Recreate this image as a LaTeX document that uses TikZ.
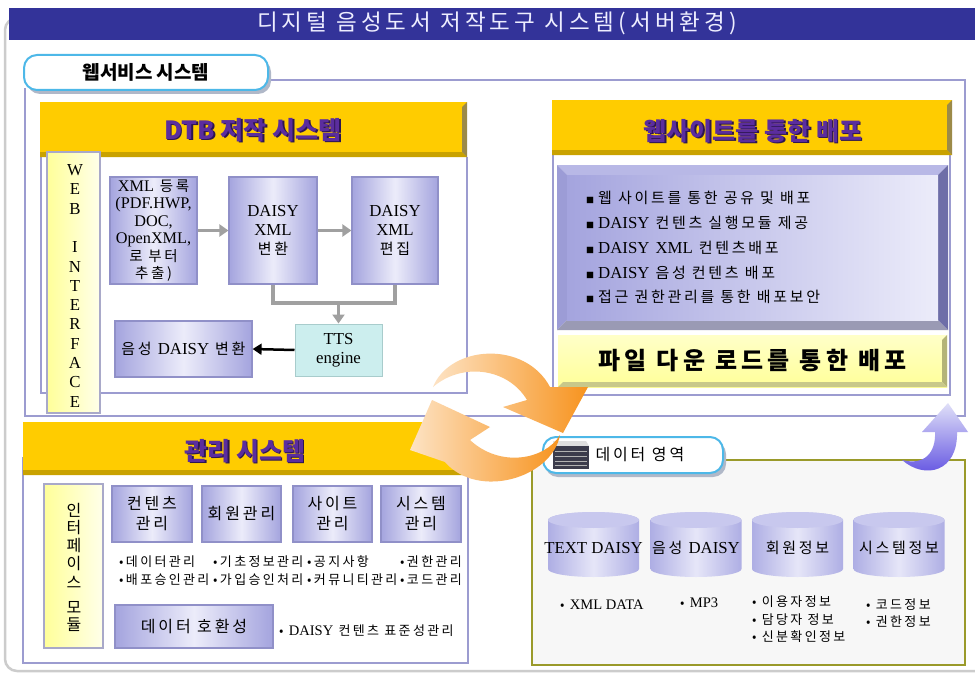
\documentclass[tikz,border=0pt]{standalone}
\usepackage{fontspec}
\usepackage{tikz}
\usetikzlibrary{arrows.meta,positioning}
\setmainfont{Noto Sans CJK KR}[LetterSpace=18]
\newfontfamily\hdfont{Noto Sans CJK KR}
\newfontfamily\latfont[Scale=1.12]{Liberation Serif}
\definecolor{titlebar}{HTML}{333399}
\definecolor{titletext}{HTML}{EEEEFF}
\definecolor{framegray}{HTML}{CCCCCC}
\definecolor{framelav}{HTML}{9C9CD0}
\definecolor{goldfill}{HTML}{FFCC00}
\definecolor{goldlow}{HTML}{C9A200}
\definecolor{goldside}{HTML}{9C8A48}
\definecolor{hdpurple}{HTML}{5B2D9E}
\definecolor{hdshadow}{HTML}{2D1650}
\definecolor{lavdark}{HTML}{A4A4DE}
\definecolor{lavlight}{HTML}{ECECFA}
\definecolor{lavedge}{HTML}{9090C8}
\definecolor{ttscyan}{HTML}{CCEEEE}
\definecolor{ttsedge}{HTML}{A8CCCC}
\definecolor{paleyellow}{HTML}{FFFF99}
\definecolor{creamy}{HTML}{FFFFEA}
\definecolor{colgray}{HTML}{A9A9C9}
\definecolor{pipegray}{HTML}{A0A0A0}
\definecolor{tabcyan}{HTML}{4DB8E8}
\definecolor{tabshadow}{HTML}{B0B8C8}
\definecolor{bevtop}{HTML}{B8B8E6}
\definecolor{bevleft}{HTML}{9C9CD6}
\definecolor{bevbottom}{HTML}{9A9AB4}
\definecolor{bevright}{HTML}{6E6EA8}
\definecolor{dltop}{HTML}{FFFFC8}
\definecolor{dlright}{HTML}{B4B478}
\definecolor{dlbottom}{HTML}{C8C88A}
\definecolor{dataolive}{HTML}{9A9A2A}
\definecolor{datagray}{HTML}{F7F7F7}
\definecolor{srvdark}{HTML}{3C3C4C}
\definecolor{cylside}{HTML}{AEAEE4}
\definecolor{cylmid}{HTML}{E6E6F8}
\definecolor{cyltop}{HTML}{C8C8EE}
\definecolor{orangelite}{HTML}{FDE3C4}
\definecolor{orangedeep}{HTML}{F7931E}
\definecolor{bluelite}{HTML}{E0E0F8}
\definecolor{bluedeep}{HTML}{5A4AE0}

\newcommand{\eng}[1]{{\latfont #1}}
\newcommand{\fsz}[2]{\fontsize{#1}{#2}\selectfont}

% gold header bar with bevel: x1 y1 x2 y2
\newcommand{\goldhead}[4]{%
  \fill[goldfill] (#1,#2) rectangle (#3,#4);
  \fill[goldlow] (#1,#4) -- (#3,#4) -- ({#3-5},{#4-5}) -- (#1,{#4-5}) -- cycle;
  \fill[goldside] (#3,#2) -- (#3,#4) -- ({#3-5},{#4-5}) -- ({#3-5},{#2+5}) -- cycle;
}
% header title with shadow: name x y text
\newcommand{\hdlabel}[4]{%
  \node[hdtxt, text=hdshadow] at ({#2+1.5},{#3+1.5}) {#4};
  \node[hdtxt] (#1) at (#2,#3) {#4};
}
% database cylinder: name x text
\newcommand{\dbcyl}[3]{%
  \shade[left color=cylside, right color=cylside, middle color=cylmid]
    ({#2-45.5},520) -- ({#2-45.5},569) arc[start angle=180, end angle=0, x radius=45.5, y radius=8]
    -- ({#2+45.5},520) arc[start angle=0, end angle=-180, x radius=45.5, y radius=8] -- cycle;
  \fill[cyltop] (#2,520) ellipse[x radius=45.5, y radius=8];
  \node[font=\fsz{15}{17}] (#1) at (#2,548) {\makebox[0pt]{#3}};
}

\tikzset{
  lavbox/.style={draw=lavedge, line width=1.2pt, left color=lavdark, right color=lavdark,
    middle color=lavlight, inner sep=0pt, align=center, font=\fsz{15}{19}},
  ylwcol/.style={draw=colgray, line width=2.5pt, left color=paleyellow, right color=creamy},
  pipe/.style={line width=3.5pt, draw=pipegray},
  pipearrow/.style={pipe, -{Triangle[length=9pt,width=12pt]}},
  hdtxt/.style={font=\hdfont\bfseries\fsz{25}{28}, text=hdpurple},
  bul/.style={anchor=west, inner sep=0pt, font=\fsz{13}{15}},
  tabpill/.style={draw=tabcyan, line width=2pt, fill=white, rounded corners=13pt},
}

\begin{document}
\begin{tikzpicture}[x=1pt, y=-1pt]
  \clip (0,0) rectangle (975,677);
  \fill[white] (0,0) rectangle (975,677);

  % Outer frame and title
  \draw[framegray, line width=2.5pt, rounded corners=12pt] (5,18) rectangle (990,671);
  \fill[titlebar] (9,8) rectangle (980,40);
  \node[font=\fsz{22.5}{26}, text=titletext] (title) at (497,23) {디지털 음성도서 저작도구 시스템(서버환경)};

  % Web service frame
  \draw[framelav, line width=1.5pt] (268,80) -- (965,80) -- (965,416) -- (25,416) -- (25,88);
  \fill[tabshadow, rounded corners=13pt] (27,59) rectangle (271,94);
  \node[tabpill, minimum width=244pt, minimum height=35pt, font=\hdfont\bfseries\fsz{19}{22}] (webtab) at (146,72.5) {웹서비스 시스템};

  % DTB authoring
  \fill[white] (41,157) rectangle (467,393);
  \draw[framelav, line width=1.5pt] (41,157) -- (41,393) -- (467,393) -- (467,157);
  \goldhead{40}{102}{467}{157}
  \hdlabel{dtbhead}{253}{130}{DTB 저작 시스템}

  \node[ylwcol, minimum width=53pt, minimum height=261pt] (webif) at (73.5,282.5) {};
  \foreach \ch [count=\i from 0] in {W,E,B,,I,N,T,E,R,F,A,C,E}
    \node[font=\latfont\fsz{15}{15}] (wi\i) at (75,{170+19.3*\i}) {\ch};

  \node[lavbox, font=\fsz{14.5}{17.5}, minimum width=87pt, minimum height=107pt] (xmlreg) at (153.5,230.5)
    {\eng{XML} 등록\\\eng{(PDF.HWP,}\\\eng{DOC,}\\\eng{OpenXML,}\\로 부터\\추출)};
  \node[lavbox, minimum width=88pt, minimum height=107pt] (daisyconv) at (273,230.5) {\eng{DAISY}\\\eng{XML}\\변환};
  \node[lavbox, minimum width=86pt, minimum height=107pt] (daisyedit) at (395,230.5) {\eng{DAISY}\\\eng{XML}\\편집};
  \node[draw=ttsedge, line width=1pt, fill=ttscyan, minimum width=87pt, minimum height=52pt,
    align=center, font=\latfont\fsz{15}{19}] (tts) at (338.5,350) {TTS\\engine};
  \node[lavbox, minimum width=137pt, minimum height=56pt] (voiceconv) at (183.5,349) {음성 \eng{DAISY} 변환};

  \draw[pipearrow] (xmlreg) -- (daisyconv);
  \draw[pipearrow] (daisyconv) -- (daisyedit);
  \coordinate (ttsjoin) at (338.5,303);
  \draw[pipe] (daisyconv.south) |- (ttsjoin) -| (daisyedit.south);
  \draw[pipearrow] (ttsjoin) -- (tts.north);
  \draw[line width=2.5pt, -{Triangle[length=9pt,width=11pt]}] (tts.west) -- (voiceconv.east);

  % Distribution via web site
  \fill[white] (553,155) rectangle (950,395);
  \draw[framelav, line width=1.5pt] (553,155) -- (553,395) -- (950,395) -- (950,155);
  \goldhead{552}{100}{952}{155}
  \hdlabel{webhead}{753}{131}{웹사이트를 통한 배포}

  \fill[bevtop] (557,165) -- (948,165) -- (938,175) -- (567,175) -- cycle;
  \fill[bevleft] (557,165) -- (567,175) -- (567,320) -- (557,330) -- cycle;
  \fill[bevbottom] (557,330) -- (567,320) -- (938,320) -- (948,330) -- cycle;
  \fill[bevright] (948,165) -- (948,330) -- (938,320) -- (938,175) -- cycle;
  \node[minimum width=371pt, minimum height=145pt, inner sep=0pt, left color=lavdark, right color=lavlight] (sharebox) at (752.5,247.5) {};
  \foreach \txt [count=\i from 0] in {웹 사이트를 통한 공유 및 배포, \eng{DAISY} 컨텐츠 실행모듈 제공,
      \eng{DAISY} \eng{XML} 컨텐츠배포, \eng{DAISY} 음성 컨텐츠 배포, 접근 권한관리를 통한 배포보안}
    \node[bul, font=\fsz{15}{17}] (share\i) at (586,{198+24.8*\i}) {{\fsz{8}{8}■}\hspace{4pt}\txt};

  \node[minimum width=389pt, minimum height=52pt, inner sep=0pt, top color=dltop, bottom color=paleyellow,
    font=\bfseries\fsz{24}{26}] (download) at (752.5,361) {파일 다운 로드를 통한 배포};
  \fill[dlright] (download.north east) -- (download.south east) -- ++(-5,-5)
    -- ([xshift=-5pt,yshift=-5pt]download.north east) -- cycle;
  \fill[dlbottom] (download.south west) -- (download.south east) -- ++(-5,-5)
    -- ([xshift=5pt,yshift=5pt]download.south west) -- cycle;

  % Management system
  \fill[white] (23,457) rectangle (468,663);
  \draw[framelav, line width=1.5pt] (23,457) -- (23,663) -- (468,663) -- (468,470);
  \goldhead{23}{422}{467}{475}
  \hdlabel{mgmthead}{245}{451}{관리 시스템}

  \node[ylwcol, minimum width=59pt, minimum height=164pt] (ifmod) at (73.5,566) {};
  \foreach \ch/\yy [count=\i] in {인/510,터/528,페/546,이/564,스/582,모/607,듈/625}
    \node[font=\fsz{16}{16}] (im\i) at (74,\yy) {\ch};

  \node[lavbox, font=\fsz{16}{20}, minimum width=80pt, minimum height=56pt] (contmgmt) at (152,514) {컨텐츠\\관리};
  \node[lavbox, font=\fsz{16}{20}, minimum width=79pt, minimum height=56pt] (membmgmt) at (241.5,514) {회원관리};
  \node[lavbox, font=\fsz{16}{20}, minimum width=79pt, minimum height=56pt] (sitemgmt) at (332.5,514) {사이트\\관리};
  \node[lavbox, font=\fsz{16}{20}, minimum width=80pt, minimum height=56pt] (sysmgmt) at (421,514) {시스템\\관리};

  \node[bul] (mb1) at (119,562) {•데이터관리};
  \node[bul] (mb2) at (213,562) {•기초정보관리};
  \node[bul] (mb3) at (307,562) {•공지사항};
  \node[bul] (mb4) at (400,562) {•권한관리};
  \node[bul] (mb5) at (119,580) {•배포승인관리};
  \node[bul] (mb6) at (213,580) {•가입승인처리};
  \node[bul] (mb7) at (307,580) {•커뮤니티관리};
  \node[bul] (mb8) at (400,580) {•코드관리};

  \node[lavbox, font=\fsz{16}{20}, minimum width=158pt, minimum height=43pt] (compat) at (194,626.5) {데이터 호환성};
  \node[bul] (compatnote) at (279,631) {• \eng{DAISY} 컨텐츠 표준성관리};

  % Data area
  \draw[dataolive, line width=1.5pt, fill=datagray] (532,460) rectangle (965,665);
  \fill[tabshadow, rounded corners=13pt] (545,441) rectangle (726,477);
  \node[tabpill, minimum width=180pt, minimum height=36pt] (datatab) at (633,455) {};
  \fill[gray!25] (553,441) -- (586,441) -- (589,446) -- (553,446) -- cycle;
  \fill[srvdark] (553,446) rectangle (589,469);
  \foreach \yy in {451,456,461,465}
    \draw[gray!60, line width=0.6pt] (555,\yy) -- (587,\yy);
  \node[anchor=west, font=\fsz{16}{18}] (datalbl) at (592,455) {데이터 영역};

  \dbcyl{textdb}{593.5}{\eng{TEXT DAISY}}
  \dbcyl{voicedb}{696}{음성 \eng{DAISY}}
  \dbcyl{memberdb}{797.5}{회원정보}
  \dbcyl{systemdb}{899}{시스템정보}

  \node[bul] (db1) at (560,605) {• \eng{XML DATA}};
  \node[bul] (db2) at (680,603) {• \eng{MP3}};
  \node[bul] (db3) at (752,602) {• 이용자정보};
  \node[bul] (db4) at (752,620) {• 담당자 정보};
  \node[bul] (db5) at (752,637) {• 신분확인정보};
  \node[bul] (db6) at (866,605) {• 코드정보};
  \node[bul] (db7) at (866,622) {• 권한정보};

  % Exchange arrows
  \shade[left color=orangelite, right color=orangedeep]
    (433,387) .. controls (450,345) and (525,340) .. (550,387) -- (588,387) -- (563,433)
    -- (503,407) -- (527,400) .. controls (508,368) and (462,362) .. (433,387) -- cycle;
  \shade[left color=orangelite, right color=orangedeep]
    (560,435) .. controls (552,478) and (478,500) .. (445,462) -- (410,450) -- (432,400)
    -- (490,427) -- (470,440) .. controls (500,468) and (545,460) .. (560,435) -- cycle;

  % Upload arrow
  \shade[top color=bluelite, bottom color=bluedeep]
    (902,460) .. controls (925,480) and (958,472) .. (957,432) -- (968,432) -- (948,403)
    -- (922,432) -- (935,432) .. controls (936,452) and (925,466) .. (902,460) -- cycle;
\end{tikzpicture}
\end{document}
